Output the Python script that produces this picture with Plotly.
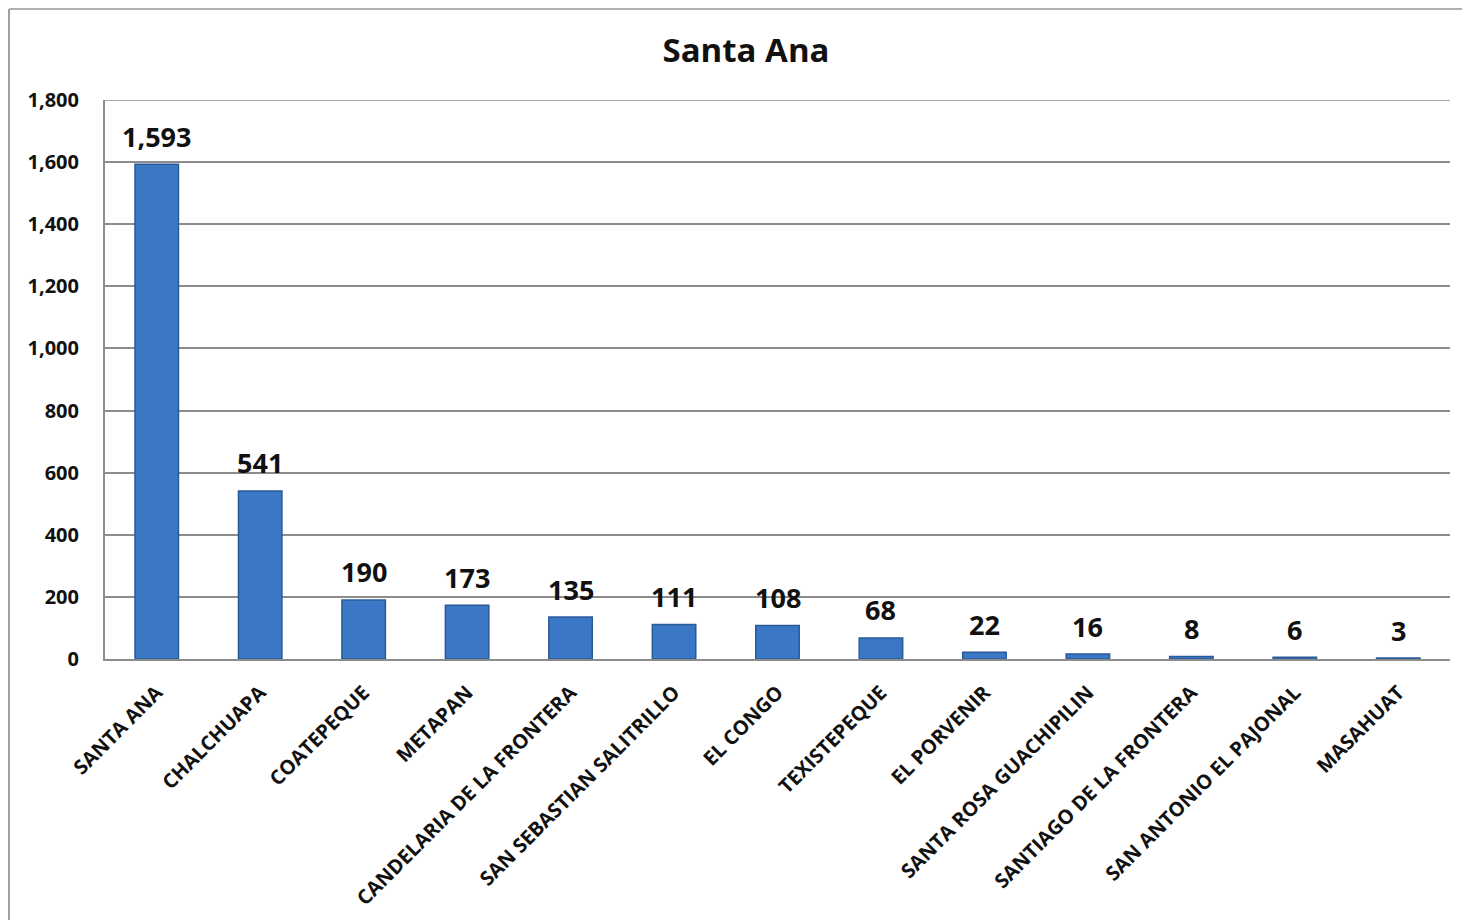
import plotly.graph_objects as go

categories = ["SANTA ANA", "CHALCHUAPA", "COATEPEQUE", "METAPAN",
              "CANDELARIA DE LA FRONTERA", "SAN SEBASTIAN SALITRILLO", "EL CONGO",
              "TEXISTEPEQUE", "EL PORVENIR", "SANTA ROSA GUACHIPILIN",
              "SANTIAGO DE LA FRONTERA", "SAN ANTONIO EL PAJONAL", "MASAHUAT"]
values = [1593, 541, 190, 173, 135, 111, 108, 68, 22, 16, 8, 6, 3]
y_ticks = [0, 200, 400, 600, 800, 1000, 1200, 1400, 1600, 1800]

FONT = "Open Sans, Noto Sans, sans-serif"
W, H = 1462, 912
L, R, T, B = 97, 20, 92, 261
PW, PH = W - L - R, H - T - B
GRID = "#8c8c8c"

fig = go.Figure(go.Bar(
    x=categories, y=values,
    marker=dict(color="#3A78C6", line=dict(color="#2A5A98", width=1.5)),
))

for c, v in zip(categories, values):
    fig.add_annotation(x=c, y=v, text=f"<b>{v:,}</b>", showarrow=False,
                       yanchor="middle", yshift=28,
                       font=dict(family=FONT, size=27, color="#111111"))

fig.update_layout(
    width=W, height=H,
    paper_bgcolor="white", plot_bgcolor="white",
    margin=dict(l=L, r=R, t=T, b=B, autoexpand=False),
    bargap=0.58,
    showlegend=False,
    title=dict(text="<b>Santa Ana</b>", x=738 / W, xanchor="center",
               y=1 - 42 / H, yanchor="middle",
               font=dict(family=FONT, size=33, color="#111111")),
    font=dict(family=FONT, color="#111111"),
)
fig.update_yaxes(range=[0, 1800], tickvals=y_ticks, tickformat=",",
                 showgrid=True, gridcolor=GRID, gridwidth=1.5,
                 showline=True, linecolor=GRID, linewidth=2,
                 ticks="", tickfont=dict(size=20, family=FONT, weight="bold"),
                 zeroline=False, ticklabelstandoff=20, automargin=False)
fig.update_xaxes(tickangle=-45, showline=True, linecolor=GRID, linewidth=2,
                 tickfont=dict(size=20, family=FONT, weight="bold"),
                 ticklabelstandoff=12, automargin=False)

# top gridline at the axis maximum
fig.add_shape(type="line", xref="paper", yref="y", x0=0, x1=1, y0=y_ticks[-1], y1=y_ticks[-1],
              line=dict(color=GRID, width=1.5))

# chart frame (left and top edges)
x_left = -(L - 1) / PW
y_top = 1 + (T - 1) / PH
y_bot = -(B) / PH
fig.add_shape(type="line", xref="paper", yref="paper", x0=x_left, x1=x_left, y0=y_bot, y1=y_top,
              line=dict(color="#a0a0a0", width=2))
fig.add_shape(type="line", xref="paper", yref="paper", x0=x_left, x1=1 + R / PW, y0=y_top, y1=y_top,
              line=dict(color="#b0b0b0", width=2))

fig.write_html("out.html")
